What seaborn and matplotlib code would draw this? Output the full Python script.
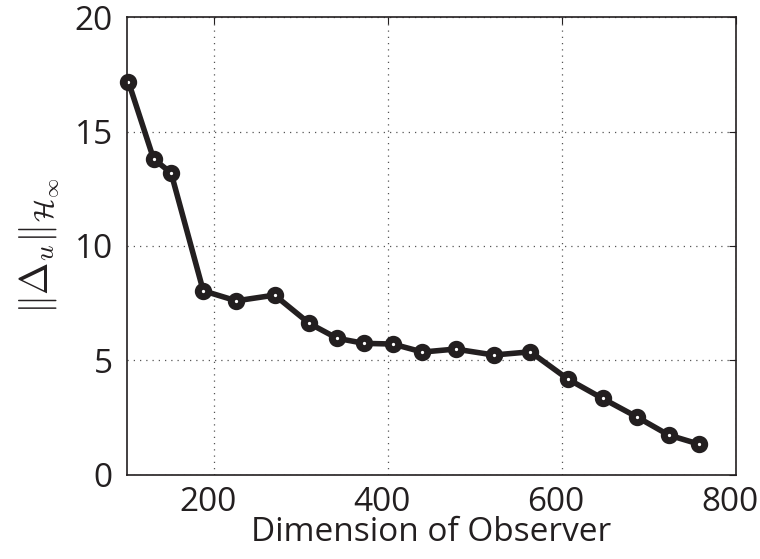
import matplotlib
matplotlib.use("Agg")
import matplotlib.pyplot as plt
import matplotlib.transforms as mtransforms
import seaborn as sns
import pandas as pd

dimension = [102, 131, 151, 188, 226, 270, 310, 342, 373, 406, 440, 478, 522, 564, 607, 647, 686, 723, 758]
norm_delta = [17.18, 13.80, 13.20, 8.04, 7.60, 7.85, 6.61, 5.96, 5.74, 5.71, 5.36, 5.49, 5.23, 5.37, 4.18, 3.33, 2.53, 1.73, 1.33]
x_ticks = [200, 400, 600, 800]
y_ticks = [0, 5, 10, 15, 20]

sns.set_style("white")
plt.rcParams['font.family'] = ['Open Sans', 'DejaVu Sans']
plt.rcParams['mathtext.fontset'] = 'cm'

df = pd.DataFrame({"dim": dimension, "norm": norm_delta})
ink = "#231f20"

fig = plt.figure(figsize=(7.6, 5.59), dpi=100)
ax = fig.add_axes([0.1667, 0.151, 0.8013, 0.818])
sns.lineplot(data=df, x="dim", y="norm", ax=ax, color=ink, linewidth=4,
             marker="o", markersize=7.5, markerfacecolor="white",
             markeredgecolor=ink, markeredgewidth=5, clip_on=False)

ax.set_xlim(100, 800)
ax.set_ylim(0, 20)
ax.set_xticks(x_ticks)
ax.set_yticks(y_ticks)
ax.grid(True, linestyle=(0, (1, 4)), color="#555555", linewidth=0.9)
ax.tick_params(direction="in", length=5, width=0.8, colors=ink, labelsize=24,
               top=True, right=True, labelcolor=ink, pad=8)
ax.tick_params(axis="y", pad=10)
for s in ax.spines.values():
    s.set_color(ink)
    s.set_linewidth(1.2)

shift = mtransforms.ScaledTranslation(-6 / 100, 0, fig.dpi_scale_trans)
for lbl in ax.get_xticklabels():
    lbl.set_transform(lbl.get_transform() + shift)

ax.set_xlabel("Dimension of Observer", fontsize=24, color=ink, labelpad=-2)
ax.set_ylabel(r"$\|\Delta_u\|_{\mathcal{H}_\infty}$", fontsize=28, color=ink, labelpad=10)
fig.savefig("out.png", dpi=100)
